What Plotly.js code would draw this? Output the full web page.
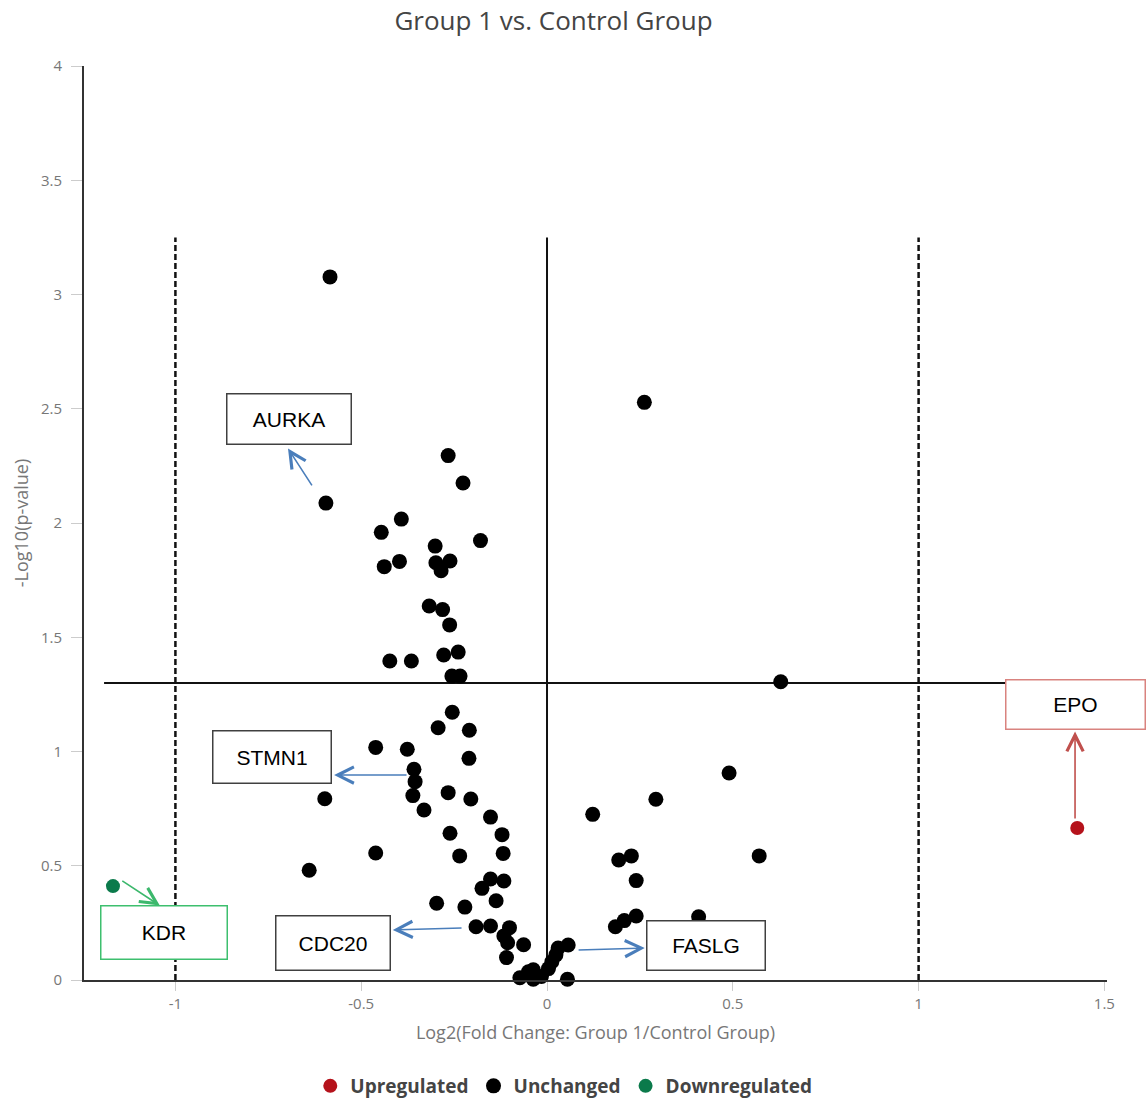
<!DOCTYPE html>
<html>
<head>
<meta charset="utf-8">
<script src="https://cdn.plot.ly/plotly-3.0.1.min.js"></script>
<style>
  html, body { margin: 0; padding: 0; background: #fff; }
  #chart { width: 1146px; height: 1099px; }
</style>
</head>
<body>
<div id="chart"></div>
<script>
// Volcano plot: log2 fold change (Group 1 / Control) vs -log10(p-value)

// Unchanged genes
const unchangedFC = [
  -0.584, 0.262, -0.266, -0.226, -0.595, -0.392, -0.446, -0.179, -0.301, -0.261,
  -0.397, -0.299, -0.438, -0.285, -0.317, -0.281, -0.262, -0.239, -0.278, -0.423,
  -0.365, -0.256, -0.234, 0.629, -0.255, -0.293, -0.209, -0.461, -0.376, -0.210,
  0.490, -0.358, -0.355, -0.266, -0.361, -0.598, -0.205, 0.293, -0.331, 0.123,
  -0.152, -0.261, -0.121, -0.461, -0.118, 0.227, 0.571, -0.235, 0.193, -0.640,
  -0.152, 0.240, -0.116, -0.175, -0.137, -0.297, -0.221, 0.240, 0.408, 0.208,
  -0.191, -0.152, 0.184, -0.101, -0.116, -0.106, -0.063, 0.057, 0.030, 0.024,
  0.013, 0.004, -0.109, -0.073, -0.050, -0.037, -0.037, -0.015, 0.055
];
const unchangedP = [
  3.077, 2.528, 2.295, 2.175, 2.087, 2.017, 1.959, 1.923, 1.899, 1.834,
  1.832, 1.826, 1.809, 1.791, 1.637, 1.621, 1.554, 1.435, 1.422, 1.396,
  1.396, 1.330, 1.330, 1.305, 1.172, 1.104, 1.093, 1.018, 1.010, 0.970,
  0.906, 0.922, 0.868, 0.820, 0.807, 0.793, 0.792, 0.791, 0.744, 0.725,
  0.713, 0.642, 0.636, 0.556, 0.554, 0.543, 0.543, 0.543, 0.525, 0.480,
  0.442, 0.435, 0.433, 0.401, 0.347, 0.336, 0.319, 0.280, 0.277, 0.260,
  0.233, 0.236, 0.233, 0.229, 0.193, 0.163, 0.154, 0.153, 0.140, 0.110,
  0.080, 0.050, 0.098, 0.010, 0.036, 0.045, 0.003, 0.015, 0.003
];

// Significant genes
const upGenes = ['EPO'];
const upFC = [1.427];
const upP = [0.665];
const downGenes = ['KDR'];
const downFC = [-1.168];
const downP = [0.411];

// Axis ticks
const xTicks = [-1, -0.5, 0, 0.5, 1, 1.5];
const yTicks = [0, 0.5, 1, 1.5, 2, 2.5, 3, 3.5, 4];

// Thresholds
const fcThreshold = 1;
const pThreshold = 1.30;

// Callout labels (box centre in data units, arrow from near the gene to the box)
const callouts = [
  { text: 'AURKA', bx: -0.693, by: 2.453, w: 123, h: 49, tail: [-0.630, 2.158], head: [-0.697, 2.326], arrow: '#4a7ebb', border: '#404040' },
  { text: 'STMN1', bx: -0.739, by: 0.974, w: 117, h: 51, tail: [-0.374, 0.897], head: [-0.573, 0.897], arrow: '#4a7ebb', border: '#404040' },
  { text: 'CDC20', bx: -0.577, by: 0.164, w: 113, h: 53, tail: [-0.226, 0.228], head: [-0.415, 0.219], arrow: '#4a7ebb', border: '#404040' },
  { text: 'FASLG', bx: 0.427, by: 0.149, w: 117, h: 48, tail: [0.081, 0.131], head: [0.263, 0.140], arrow: '#4a7ebb', border: '#404040' },
  { text: 'EPO',   bx: 1.421, by: 1.204, w: 138, h: 48, tail: [1.421, 0.700], head: [1.421, 1.087], arrow: '#c0504d', border: '#d9837f' },
  { text: 'KDR',   bx: -1.032, by: 0.206, w: 125, h: 52, tail: [-1.147, 0.438], head: [-1.042, 0.326], arrow: '#3cb86c', border: '#3dbf6e' }
];

const traces = [
  {
    type: 'scatter', mode: 'markers', name: 'Upregulated',
    x: upFC, y: upP, text: upGenes,
    marker: { color: '#b5121b', size: 14 },
    cliponaxis: false
  },
  {
    type: 'scatter', mode: 'markers', name: 'Unchanged',
    x: unchangedFC, y: unchangedP,
    marker: { color: '#000000', size: 15 },
    cliponaxis: false
  },
  {
    type: 'scatter', mode: 'markers', name: 'Downregulated',
    x: downFC, y: downP, text: downGenes,
    marker: { color: '#0b7a4b', size: 14 },
    cliponaxis: false
  }
];

const lineTop = 3.25;
const shapes = [
  { type: 'line', xref: 'x', yref: 'y', x0: -fcThreshold, x1: -fcThreshold, y0: 0, y1: lineTop,
    line: { color: '#111', width: 2.5, dash: '6px,3px' }, layer: 'below' },
  { type: 'line', xref: 'x', yref: 'y', x0: fcThreshold, x1: fcThreshold, y0: 0, y1: lineTop,
    line: { color: '#111', width: 2.5, dash: '6px,3px' }, layer: 'below' },
  { type: 'line', xref: 'x', yref: 'y', x0: 0, x1: 0, y0: 0, y1: lineTop,
    line: { color: '#111', width: 2 }, layer: 'below' },
  { type: 'line', xref: 'x', yref: 'y', x0: -1.192, x1: 1.507, y0: pThreshold, y1: pThreshold,
    line: { color: '#111', width: 2 }, layer: 'below' }
];

const annotations = [];
callouts.forEach(c => {
  annotations.push({
    xref: 'x', yref: 'y', x: c.head[0], y: c.head[1],
    axref: 'x', ayref: 'y', ax: c.tail[0], ay: c.tail[1],
    text: '', showarrow: true, arrowhead: 5, arrowsize: 2, arrowwidth: 1.6,
    arrowcolor: c.arrow, standoff: 0, startstandoff: 0
  });
});
callouts.forEach(c => {
  annotations.push({
    xref: 'x', yref: 'y', x: c.bx, y: c.by, showarrow: false,
    text: c.text, width: c.w, height: c.h, align: 'center', valign: 'middle',
    bgcolor: '#ffffff', bordercolor: c.border, borderwidth: 1.5, borderpad: 0,
    font: { family: '"Liberation Sans", Arial, sans-serif', size: 21, color: '#000' }
  });
});

const layout = {
  width: 1146, height: 1099,
  margin: { l: 84, r: 39, t: 66, b: 119, autoexpand: false },
  paper_bgcolor: '#ffffff', plot_bgcolor: '#ffffff',
  font: { family: '"Open Sans", sans-serif', color: '#444' },
  title: {
    text: 'Group 1 vs. Control Group',
    xref: 'container', x: 0.483, xanchor: 'center',
    yref: 'container', y: 0.981, yanchor: 'middle',
    font: { size: 26, color: '#444' }
  },
  xaxis: {
    range: [-1.246, 1.507], tickvals: xTicks, ticktext: xTicks.map(String),
    ticks: 'outside', ticklen: 9, tickcolor: '#cccccc', tickwidth: 1,
    tickfont: { size: 15, color: '#777' },
    showline: true, linecolor: '#333', linewidth: 2,
    showgrid: false, zeroline: false, automargin: false,
    title: { text: 'Log2(Fold Change: Group 1/Control Group)', font: { size: 18, color: '#777' }, standoff: 14 }
  },
  yaxis: {
    range: [0, 4], tickvals: yTicks, ticktext: yTicks.map(String),
    ticks: 'outside', ticklen: 11, tickcolor: '#cccccc', tickwidth: 1,
    ticklabelstandoff: 6,
    tickfont: { size: 15, color: '#777' },
    showline: true, linecolor: '#333', linewidth: 2,
    showgrid: false, zeroline: false, automargin: false,
    title: { text: '-Log10(p-value)', font: { size: 18, color: '#777' }, standoff: 8 }
  },
  showlegend: true,
  legend: {
    orientation: 'h', xref: 'paper', x: 0.469, xanchor: 'center',
    yref: 'paper', y: -0.116, yanchor: 'middle',
    font: { size: 19, color: '#444', weight: 'bold' },
    itemclick: false, itemdoubleclick: false
  },
  shapes: shapes,
  annotations: annotations
};

Plotly.newPlot('chart', traces, layout, { displayModeBar: false, staticPlot: true });
</script>
</body>
</html>
